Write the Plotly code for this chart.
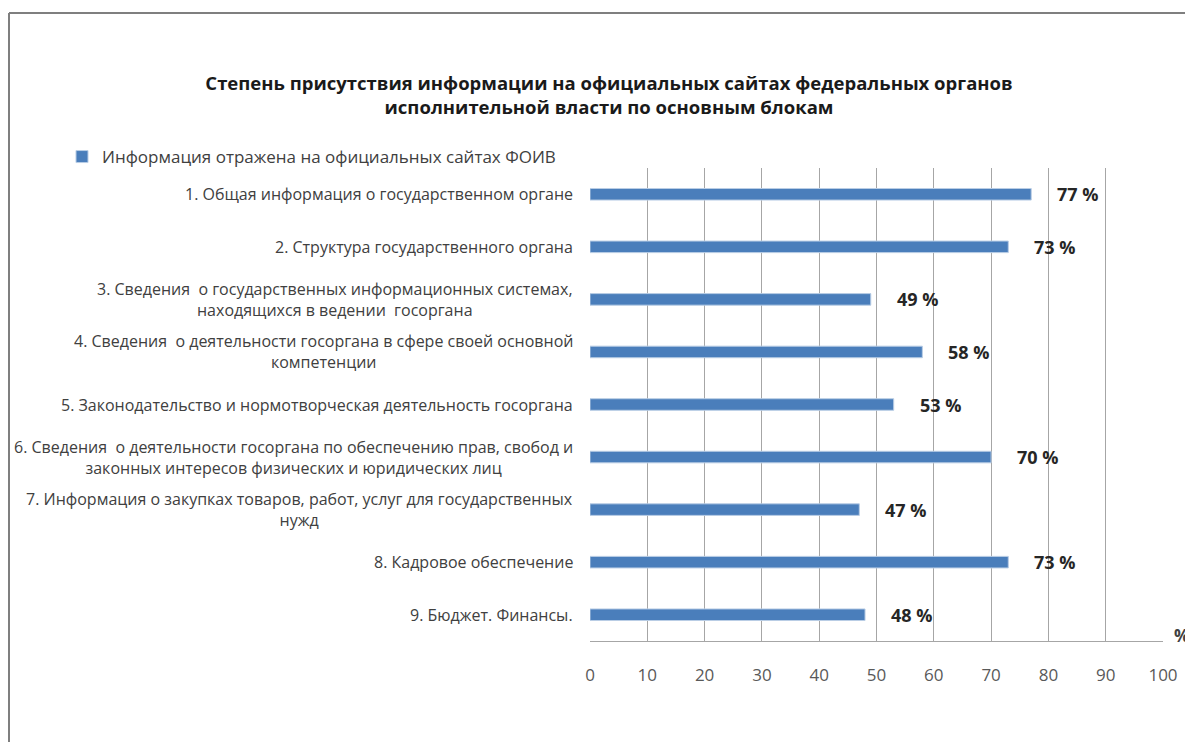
import plotly.graph_objects as go

categories = [
    "1. Общая информация о государственном органе",
    "2. Структура государственного органа",
    "3. Сведения  о государственных информационных системах,<br>находящихся в ведении  госоргана",
    "4. Сведения  о деятельности госоргана в сфере своей основной<br>компетенции",
    "5. Законодательство и нормотворческая деятельность госоргана",
    "6. Сведения  о деятельности госоргана по обеспечению прав, свобод и<br>законных интересов физических и юридических лиц",
    "7. Информация о закупках товаров, работ, услуг для государственных<br>нужд",
    "8. Кадровое обеспечение",
    "9. Бюджет. Финансы.",
]
values = [77, 73, 49, 58, 53, 70, 47, 73, 48]
value_labels = ["77 %", "73 %", "49 %", "58 %", "53 %", "70 %", "47 %", "73 %", "48 %"]
x_ticks = [0, 10, 20, 30, 40, 50, 60, 70, 80, 90, 100]
series_name = "Информация отражена на официальных сайтах ФОИВ"
title_text = ("Степень присутствия информации на официальных сайтах федеральных органов<br>"
              "исполнительной власти по основным блокам")

# page body has an 8px margin; figure coords = screen coords - 8
OFF = 8
W, H = 1193 - OFF, 742 - OFF
plot_l, plot_r, plot_t, plot_b = 590 - OFF, 1163 - OFF, 168 - OFF, 641 - OFF
ml, mr, mt, mb = plot_l, W - plot_r, plot_t, H - plot_b
pw = plot_r - plot_l
ph = plot_b - plot_t


def px(xf):
    return (xf - plot_l) / pw


def py(yf):
    return (plot_b - yf) / ph


fig = go.Figure()
fig.add_trace(go.Bar(
    x=values, y=categories, orientation="h", name=series_name,
    width=0.22,
    marker=dict(color="#4A7EBB", line=dict(color="#B9CDE5", width=1)),
    showlegend=True,
))

annotations = []
for c, v, t in zip(categories, values, value_labels):
    annotations.append(dict(
        x=v, y=c, xref="x", yref="y", text=t, showarrow=False,
        xanchor="left", yanchor="middle", xshift=24,
        font=dict(family="Open Sans", size=18, color="#262626", weight="bold"),
    ))
    annotations.append(dict(
        x=0, y=c, xref="paper", yref="y", text=c, showarrow=False,
        xanchor="right", yanchor="middle", align="center", xshift=-15,
        font=dict(family="Open Sans", size=16, color="#404040"),
    ))
annotations.append(dict(
    x=1, y=0, xref="paper", yref="paper", text="%", showarrow=False,
    xanchor="left", yanchor="bottom", xshift=9, yshift=-8,
    font=dict(family="Open Sans", size=17, color="#404040", weight="bold"),
))

shapes = [
    dict(type="line", xref="paper", yref="paper",
         x0=px(1), x1=px(W + 5), y0=py(13 - OFF), y1=py(13 - OFF),
         line=dict(color="#7F7F7F", width=2)),
    dict(type="line", xref="paper", yref="paper",
         x0=px(1), x1=px(1), y0=py(13 - OFF), y1=py(H + 5),
         line=dict(color="#7F7F7F", width=2)),
]

fig.update_layout(
    width=W, height=H,
    margin=dict(l=ml, r=mr, t=mt, b=mb),
    paper_bgcolor="white", plot_bgcolor="white",
    title=dict(text=title_text, x=(609 - OFF) / W, xanchor="center", xref="container",
               y=1 - (90 - OFF) / H, yanchor="middle", yref="container",
               font=dict(family="Open Sans", size=18.5, color="#1a1a1a", weight="bold")),
    legend=dict(x=px(62 - OFF), y=py(157 - OFF), xanchor="left", yanchor="middle",
                xref="paper", yref="paper", bgcolor="rgba(0,0,0,0)",
                font=dict(family="Open Sans", size=17, color="#404040"),
                itemwidth=30),
    xaxis=dict(range=[0, 100], tickvals=x_ticks, showgrid=True, gridcolor="#A6A6A6", gridwidth=1,
               zeroline=False, showline=True, linecolor="#A6A6A6", linewidth=1,
               ticks="", ticklabelstandoff=19,
               tickfont=dict(family="Open Sans", size=17, color="#595959"), fixedrange=True),
    yaxis=dict(categoryorder="array", categoryarray=categories, autorange="reversed",
               showticklabels=False, showgrid=False, zeroline=False, showline=False, ticks=""),
    annotations=annotations,
    shapes=shapes,
    bargap=0.5,
)

fig.write_html("out.html")
